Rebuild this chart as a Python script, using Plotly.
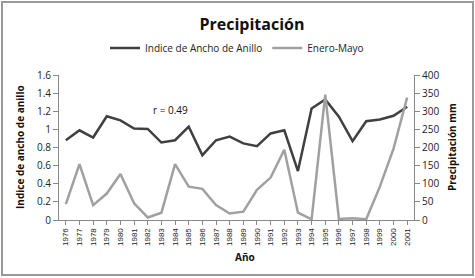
import plotly.graph_objects as go

years = [str(y) for y in range(1976, 2002)]
indice = [0.88, 0.99, 0.91, 1.145, 1.10, 1.01, 1.005, 0.855, 0.88, 1.03, 0.715, 0.88, 0.92,
          0.845, 0.815, 0.955, 0.99, 0.54, 1.23, 1.33, 1.14, 0.87, 1.09, 1.11, 1.15, 1.25]
enero_mayo = [44, 154, 41, 73, 127, 46, 7, 20, 154, 92, 86, 41, 18,
              23, 83, 117, 194, 20, 2, 346, 3, 5, 2, 92, 197, 338]
left_ticks = [0, 0.2, 0.4, 0.6, 0.8, 1, 1.2, 1.4, 1.6]
left_labels = ["0", "0.2", "0.4", "0.6", "0.8", "1", "1.2", "1.4", "1.6"]
right_ticks = [0, 50, 100, 150, 200, 250, 300, 350, 400]

W, H = 475, 278
ml, mr, mt, mb = 59, 61, 75, 58
font = "Open Sans, Liberation Sans, Arial, sans-serif"

fig = go.Figure()
fig.add_trace(go.Scatter(x=years, y=indice, mode="lines", name="Indice de Ancho de Anillo",
                         line=dict(color="#404040", width=2.5)))
fig.add_trace(go.Scatter(x=years, y=enero_mayo, mode="lines", name="Enero-Mayo", yaxis="y2",
                         line=dict(color="#a0a0a0", width=2.5)))

pw = W - ml - mr
ph = H - mt - mb
def px2x(px):
    return (px - ml) / pw
def py2y(py):
    return (H - mb - py) / ph

fig.update_layout(
    width=W, height=H,
    margin=dict(l=ml, r=mr, t=mt, b=mb, autoexpand=False),
    paper_bgcolor="white", plot_bgcolor="white",
    font=dict(family=font, size=10, color="#222"),
    title=dict(text="<b>Precipitación</b>", x=252 / W, xref="container", xanchor="center",
               y=1 - 24 / H, yref="container", yanchor="middle", font=dict(size=16, color="#111")),
    showlegend=True,
    legend=dict(orientation="h", x=237 / W, xanchor="center", xref="container",
                y=1 - 48 / H, yref="container", yanchor="middle",
                font=dict(size=10), itemwidth=30, tracegroupgap=0, bgcolor="rgba(0,0,0,0)"),
    xaxis=dict(type="category", range=[-0.5, 25.5], showgrid=False, showline=True,
               linecolor="#888", linewidth=1, ticks="outside", ticklen=4, tickcolor="#888",
               tickangle=-90, tickfont=dict(family="Liberation Sans, Arial", size=8, color="#222"),
               automargin=False),
    yaxis=dict(range=[0, 1.6], tickvals=left_ticks, ticktext=left_labels, showgrid=False,
               showline=True, linecolor="#888", linewidth=1, ticks="outside", ticklen=5,
               tickcolor="#888", tickfont=dict(size=10, color="#222"), zeroline=False,
               automargin=False),
    yaxis2=dict(range=[0, 400], tickvals=right_ticks, overlaying="y", side="right",
                showgrid=False, showline=True, linecolor="#888", linewidth=1, ticks="outside",
                ticklen=5, tickcolor="#888", tickfont=dict(size=10, color="#222"), zeroline=False,
                automargin=False),
)

def ann(text, px, py, angle=0):
    fig.add_annotation(text=text, xref="paper", yref="paper", x=px2x(px), y=py2y(py),
                       xanchor="center", yanchor="middle", textangle=angle,
                       showarrow=False, font=dict(size=10, color="#111"))

ann("r = 0.49", 170, 110)
ann("<b>Año</b>", 245, 257)
ann("<b>Indice de ancho de anillo</b>", 20, 147, -90)
ann("<b>Precipitación mm</b>", 452, 147, -90)

# outer chart border
fig.add_shape(type="rect", xref="paper", yref="paper",
              x0=px2x(2), x1=px2x(473), y0=py2y(275), y1=py2y(2),
              line=dict(color="#999", width=2), fillcolor="rgba(0,0,0,0)", layer="below")

fig.write_html("out.html", config={"displayModeBar": False},
               post_script="document.body.style.margin='0';")
